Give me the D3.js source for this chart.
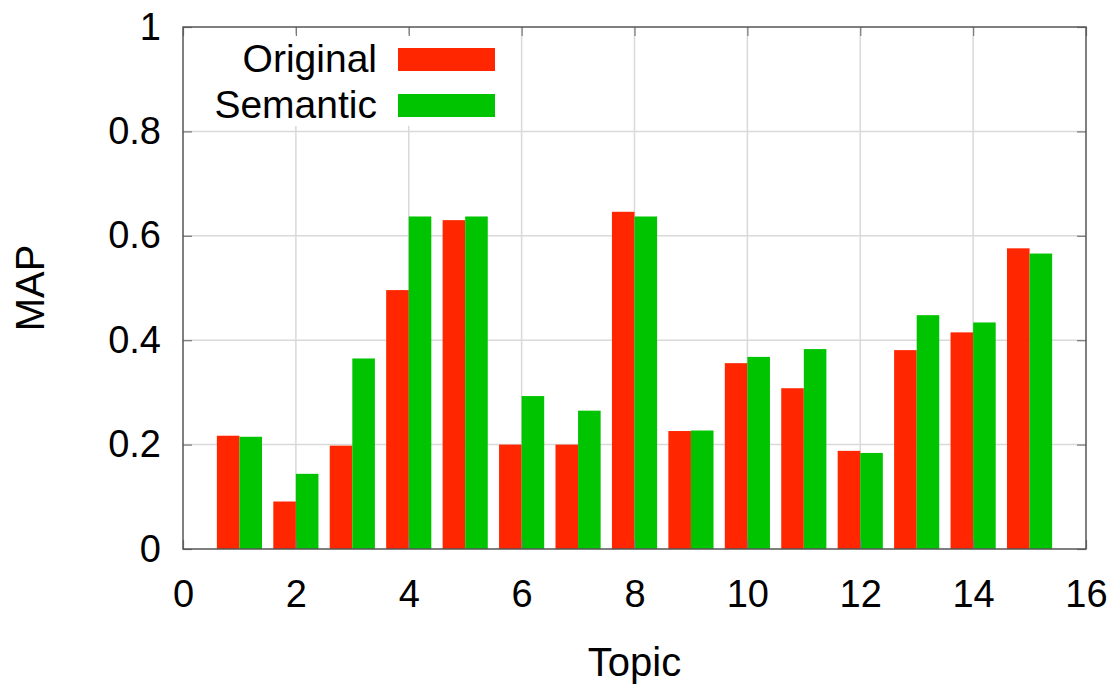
<!DOCTYPE html>
<html>
<head>
<meta charset="utf-8">
<script src="https://cdn.jsdelivr.net/npm/d3@7.9.0/dist/d3.min.js"></script>
<style>
  body { margin: 0; background: #fff; }
  svg { display: block; font-family: "Liberation Sans", Arial, sans-serif; }
</style>
</head>
<body>
<svg id="chart" width="1119" height="684"></svg>
<script>
// Data
const topics = [1, 2, 3, 4, 5, 6, 7, 8, 9, 10, 11, 12, 13, 14, 15];
const original = [0.217, 0.091, 0.198, 0.496, 0.630, 0.200, 0.200, 0.646, 0.226, 0.356, 0.308, 0.188, 0.381, 0.415, 0.576];
const semantic = [0.215, 0.144, 0.365, 0.637, 0.637, 0.293, 0.265, 0.637, 0.227, 0.368, 0.383, 0.184, 0.448, 0.434, 0.566];
const xTicks = [0, 2, 4, 6, 8, 10, 12, 14, 16];
const yTicks = [0, 0.2, 0.4, 0.6, 0.8, 1];
const seriesNames = ['Original', 'Semantic'];
const colors = ['#ff2600', '#00c400'];

const svg = d3.select('#chart');
const plotL = 183, plotR = 1086, plotT = 27, plotB = 549;

const x = d3.scaleLinear().domain([0, 16]).range([plotL, plotR]);
const y = d3.scaleLinear().domain([0, 1]).range([plotB, plotT]);
const barW = 0.4;

// grid lines
const grid = svg.append('g').attr('stroke', '#d9d9d9').attr('stroke-width', 1.5);
grid.selectAll('line.gx')
  .data(xTicks.slice(1, -1))
  .join('line')
  .attr('x1', d => x(d)).attr('x2', d => x(d))
  .attr('y1', plotT).attr('y2', plotB);
grid.selectAll('line.gy')
  .data(yTicks.slice(1, -1))
  .join('line')
  .attr('x1', plotL).attr('x2', plotR)
  .attr('y1', d => y(d)).attr('y2', d => y(d));

// legend background hides the grid behind it
svg.append('rect')
  .attr('x', plotL + 1).attr('y', plotT + 7)
  .attr('width', 322).attr('height', 92)
  .attr('fill', '#fff');

// bars
const series = [original, semantic];
series.forEach((vals, s) => {
  svg.append('g').selectAll('rect')
    .data(topics)
    .join('rect')
    .attr('x', (d) => x(d - barW + s * barW))
    .attr('width', x(barW) - x(0))
    .attr('y', (d, i) => y(vals[i]))
    .attr('height', (d, i) => y(0) - y(vals[i]))
    .attr('fill', colors[s]);
});

// axes (gnuplot style: inward ticks, mirrored)
const tickLen = 9;
const axisG = svg.append('g');
axisG.append('g')
  .attr('transform', `translate(0,${plotB})`)
  .call(d3.axisBottom(x).tickValues(xTicks).tickSizeInner(-tickLen).tickSizeOuter(0).tickPadding(31))
  .call(g => g.select('.domain').remove());
axisG.append('g')
  .attr('transform', `translate(0,${plotT})`)
  .call(d3.axisTop(x).tickValues(xTicks).tickSizeInner(-tickLen).tickSizeOuter(0).tickFormat(''))
  .call(g => g.select('.domain').remove());
axisG.append('g')
  .attr('transform', `translate(${plotL},0)`)
  .call(d3.axisLeft(y).tickValues(yTicks).tickSizeInner(-tickLen).tickSizeOuter(0).tickPadding(22).tickFormat(d3.format('~g')))
  .call(g => g.select('.domain').remove());
axisG.append('g')
  .attr('transform', `translate(${plotR},0)`)
  .call(d3.axisRight(y).tickValues(yTicks).tickSizeInner(-tickLen).tickSizeOuter(0).tickFormat(''))
  .call(g => g.select('.domain').remove());

axisG.selectAll('.tick line').attr('stroke', '#777').attr('stroke-width', 1.2);
axisG.selectAll('.tick text')
  .attr('font-size', 38)
  .attr('font-family', '"Liberation Sans", Arial, sans-serif')
  .attr('fill', '#000');

// border
svg.append('rect')
  .attr('x', plotL).attr('y', plotT)
  .attr('width', plotR - plotL).attr('height', plotB - plotT)
  .attr('fill', 'none')
  .attr('stroke', '#555').attr('stroke-width', 1.5);

// legend
const legend = svg.append('g').attr('font-size', 39);
seriesNames.forEach((name, i) => {
  const ly = 59 + i * 46;
  legend.append('text')
    .attr('x', 377).attr('y', ly + 13)
    .attr('text-anchor', 'end')
    .text(name);
  legend.append('rect')
    .attr('x', 398).attr('y', ly - 11)
    .attr('width', 97).attr('height', 23)
    .attr('fill', colors[i]);
});

// axis titles
svg.append('text')
  .attr('x', (plotL + plotR) / 2).attr('y', 676)
  .attr('text-anchor', 'middle')
  .attr('font-size', 40)
  .text('Topic');
svg.append('text')
  .attr('transform', `translate(44,${(plotT + plotB) / 2}) rotate(-90)`)
  .attr('text-anchor', 'middle')
  .attr('font-size', 40)
  .text('MAP');
</script>
</body>
</html>
